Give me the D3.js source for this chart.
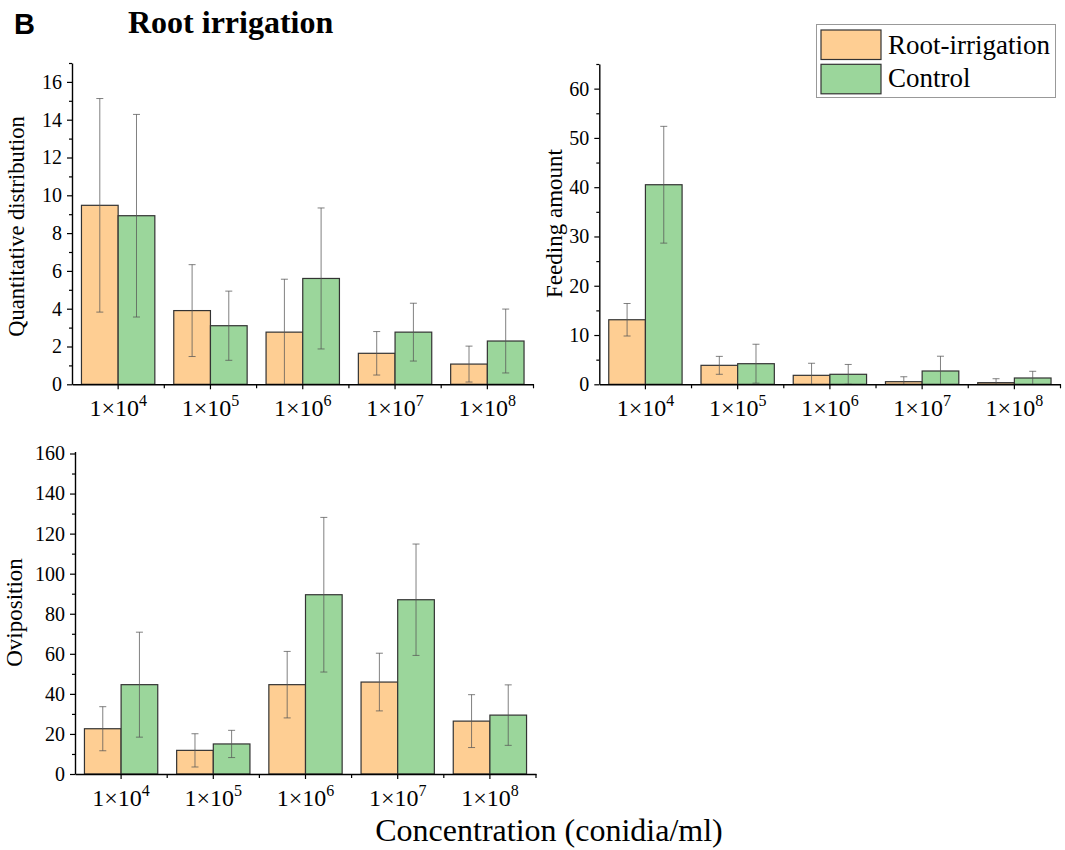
<!DOCTYPE html>
<html>
<head>
<meta charset="utf-8">
<script src="https://cdn.jsdelivr.net/npm/d3@7"></script>
<style>
  html, body { margin: 0; padding: 0; background: #fff; }
  svg { display: block; }
  text { font-family: "Liberation Serif", "Times New Roman", serif; }
</style>
</head>
<body>
<svg id="chart" width="1065" height="850"></svg>
<script>
// ---------------- DATA ----------------
const categories = ["1e4", "1e5", "1e6", "1e7", "1e8"];
const tickBase = "1×10";
const tickExponents = ["4", "5", "6", "7", "8"];
const seriesNames = ["Root-irrigation", "Control"];

const quantRootMean = [9.47, 3.9, 2.76, 1.64, 1.07];
const quantRootSD   = [5.65, 2.43, 2.8, 1.15, 0.95];
const quantCtrlMean = [8.92, 3.1, 5.6, 2.76, 2.29];
const quantCtrlSD   = [5.36, 1.83, 3.73, 1.53, 1.69];

const feedRootMean = [13.1, 3.85, 1.82, 0.53, 0.33];
const feedRootSD   = [3.3, 1.82, 2.45, 1.0, 0.8];
const feedCtrlMean = [40.5, 4.18, 2.03, 2.7, 1.28];
const feedCtrlSD   = [11.85, 3.95, 2.0, 3.0, 1.36];

const ovipRootMean = [22.6, 11.8, 44.6, 45.9, 26.4];
const ovipRootSD   = [11.0, 8.3, 16.6, 14.4, 13.2];
const ovipCtrlMean = [44.6, 15.0, 89.5, 87.0, 29.4];
const ovipCtrlSD   = [26.2, 6.8, 38.6, 27.8, 15.1];

const quantTicks = [0, 2, 4, 6, 8, 10, 12, 14, 16];
const feedTicks = [0, 10, 20, 30, 40, 50, 60];
const ovipTicks = [0, 20, 40, 60, 80, 100, 120, 140, 160];

// ---------------- STYLE ----------------
const colors = { "Root-irrigation": "#FECE93", "Control": "#9BD69B" };
const serif = "Liberation Serif";

const svg = d3.select("#chart");

function panel(cfg) {
  const g = svg.append("g");
  const x = d3.scaleBand().domain(categories).range([cfg.x0, cfg.x1])
    .paddingInner(0.205).paddingOuter(0.1025);
  const xs = d3.scaleBand().domain(seriesNames).range([0, x.bandwidth()]);
  const y = d3.scaleLinear().domain(cfg.domain).range([cfg.yb, cfg.yt]);

  const rows = [];
  categories.forEach((c, i) => {
    rows.push({ cat: c, s: seriesNames[0], m: cfg.rootMean[i], sd: cfg.rootSD[i] });
    rows.push({ cat: c, s: seriesNames[1], m: cfg.ctrlMean[i], sd: cfg.ctrlSD[i] });
  });

  // bars
  g.selectAll("rect.bar").data(rows).enter().append("rect")
    .attr("class", "bar")
    .attr("x", d => x(d.cat) + xs(d.s))
    .attr("y", d => y(d.m))
    .attr("width", xs.bandwidth())
    .attr("height", d => y(0) - y(d.m))
    .attr("fill", d => colors[d.s])
    .attr("stroke", "#333")
    .attr("stroke-width", 1.2);

  // error bars
  const eb = g.selectAll("g.err").data(rows).enter().append("g")
    .attr("class", "err")
    .attr("stroke", "#555")
    .attr("stroke-opacity", 0.75)
    .attr("stroke-width", 1);
  const cx = d => x(d.cat) + xs(d.s) + xs.bandwidth() / 2;
  const cap = 3.5;
  eb.append("line")
    .attr("x1", cx).attr("x2", cx)
    .attr("y1", d => y(d.m + d.sd))
    .attr("y2", d => y(Math.max(0, d.m - d.sd)));
  eb.append("line")
    .attr("x1", d => cx(d) - cap).attr("x2", d => cx(d) + cap)
    .attr("y1", d => y(d.m + d.sd)).attr("y2", d => y(d.m + d.sd));
  eb.filter(d => d.m - d.sd > 0).append("line")
    .attr("x1", d => cx(d) - cap).attr("x2", d => cx(d) + cap)
    .attr("y1", d => y(d.m - d.sd)).attr("y2", d => y(d.m - d.sd));

  // y axis
  const minor = [];
  for (let v = 0; v <= cfg.domain[1]; v += cfg.minorStep) {
    if (!cfg.ticks.includes(v)) minor.push(v);
  }
  const ya = g.append("g").attr("transform", `translate(${cfg.x0},0)`)
    .call(d3.axisLeft(y).tickValues(cfg.ticks).tickSize(5).tickPadding(5).tickSizeOuter(0));
  g.append("g").attr("transform", `translate(${cfg.x0},0)`)
    .call(d3.axisLeft(y).tickValues(minor).tickSize(3).tickFormat("").tickSizeOuter(0))
    .call(a => a.select(".domain").remove())
    .selectAll(".tick line").attr("stroke", "#000").attr("stroke-width", 1.2);

  // x axis
  const xa = g.append("g").attr("transform", `translate(0,${cfg.yb})`)
    .call(d3.axisBottom(x).tickSize(5).tickSizeOuter(0).tickFormat(""));
  for (let i = 1; i <= categories.length; i++) {
    const bx = x.range()[0] + i * x.step();
    g.append("line").attr("x1", bx).attr("x2", bx)
      .attr("y1", cfg.yb).attr("y2", cfg.yb + 4)
      .attr("stroke", "#000").attr("stroke-width", 1.2);
  }
  xa.selectAll(".tick").each(function(d) {
    const i = categories.indexOf(d);
    const t = d3.select(this).select("text")
      .attr("y", 31.5).attr("dy", 0)
      .attr("font-size", 24);
    t.append("tspan").text(tickBase);
    t.append("tspan").text(tickExponents[i])
      .attr("dy", -10).attr("font-size", 16);
  });

  [ya, xa].forEach(a => {
    a.attr("font-family", serif);
    a.selectAll(".domain").attr("stroke", "#000").attr("stroke-width", 1.4);
    a.selectAll(".tick line").attr("stroke", "#000").attr("stroke-width", 1.2);
    a.selectAll("text").attr("fill", "#000").attr("font-family", serif);
  });
  ya.attr("font-size", 20);
  ya.selectAll("text").attr("font-size", 20);

  // y label
  g.append("text")
    .attr("transform", `translate(${cfg.labelX},${cfg.labelY}) rotate(-90)`)
    .attr("text-anchor", "middle")
    .attr("font-family", serif)
    .attr("font-size", cfg.labelSize)
    .text(cfg.label);
}

panel({
  x0: 72, x1: 533.5, yb: 384.3, yt: 63, domain: [0, 17],
  ticks: quantTicks, minorStep: 1,
  rootMean: quantRootMean, rootSD: quantRootSD, ctrlMean: quantCtrlMean, ctrlSD: quantCtrlSD,
  label: "Quantitative distribution", labelX: 24, labelY: 226.5, labelSize: 22.5
});
panel({
  x0: 599.3, x1: 1060.5, yb: 384.3, yt: 64, domain: [0, 65],
  ticks: feedTicks, minorStep: 5,
  rootMean: feedRootMean, rootSD: feedRootSD, ctrlMean: feedCtrlMean, ctrlSD: feedCtrlSD,
  label: "Feeding amount", labelX: 562, labelY: 223.5, labelSize: 23
});
panel({
  x0: 75, x1: 536, yb: 774, yt: 451.5, domain: [0, 161],
  ticks: ovipTicks, minorStep: 10,
  rootMean: ovipRootMean, rootSD: ovipRootSD, ctrlMean: ovipCtrlMean, ctrlSD: ovipCtrlSD,
  label: "Oviposition", labelX: 22, labelY: 612.5, labelSize: 23
});

// x title
svg.append("text")
  .attr("x", 549).attr("y", 841)
  .attr("text-anchor", "middle")
  .attr("font-family", serif).attr("font-size", 32)
  .text("Concentration (conidia/ml)");

// title + panel letter
svg.append("text").attr("x", 14).attr("y", 34)
  .style("font-family", "'Liberation Sans', Arial, sans-serif")
  .attr("font-weight", "bold").attr("font-size", 29)
  .text("B");
svg.append("text").attr("x", 128).attr("y", 33)
  .attr("font-family", serif).attr("font-weight", "bold").attr("font-size", 32)
  .text("Root irrigation");

// legend
const lg = svg.append("g");
lg.append("rect").attr("x", 816.5).attr("y", 24.5).attr("width", 239).attr("height", 73)
  .attr("fill", "#fff").attr("stroke", "#999").attr("stroke-width", 1);
seriesNames.forEach((s, i) => {
  lg.append("rect").attr("x", 821).attr("y", 30 + i * 34.3).attr("width", 60).attr("height", 29.5)
    .attr("fill", colors[s]).attr("stroke", "#333").attr("stroke-width", 1.2);
  lg.append("text").attr("x", 888).attr("y", 54 + i * 33.3)
    .attr("font-family", serif).attr("font-size", 27)
    .text(s);
});
</script>
</body>
</html>
